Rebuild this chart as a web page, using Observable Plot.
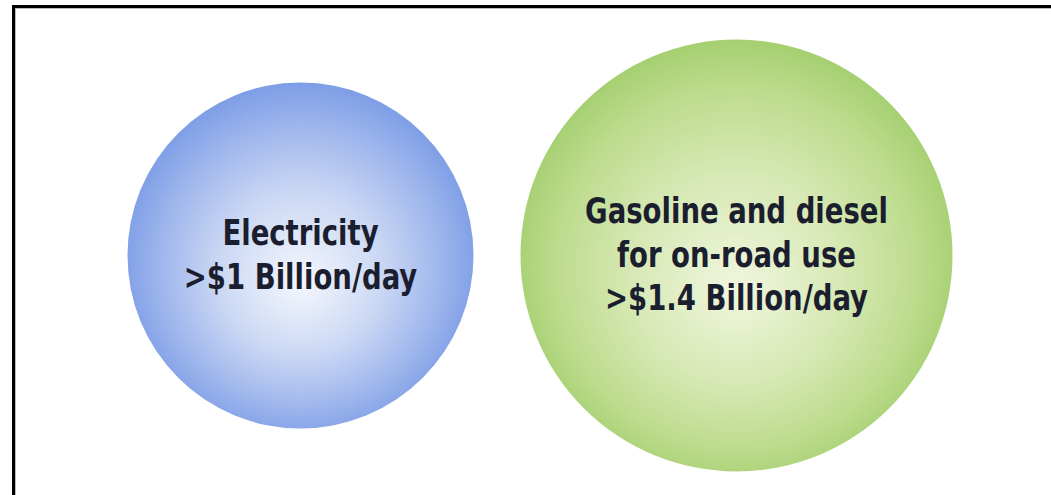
<!DOCTYPE html>
<html>
<head>
<meta charset="utf-8">
<script src="https://cdn.jsdelivr.net/npm/d3@7"></script>
<script src="https://cdn.jsdelivr.net/npm/@observablehq/plot@0.6"></script>
<style>
  html, body { margin: 0; padding: 0; background: #fff; }
  #frame {
    position: absolute; left: 12px; top: 5px;
    width: 1039px; height: 490px;
    border-top: 3px solid #000; border-left: 3px solid #000;
    box-shadow: inset 1px 1px 0 #bbb;
    overflow: hidden; background: #fff;
  }
  #frame svg text { font-stretch: condensed; }
</style>
</head>
<body>
<div id="frame"></div>
<script>
// Data
const categories = ["Electricity", "Gasoline and diesel for on-road use"];
const valuesBillionPerDay = [1, 1.4];
const labels = [
  "Electricity\n>$1 Billion/day",
  "Gasoline and diesel\nfor on-road use\n>$1.4 Billion/day"
];
const gradientIds = ["gradBlue", "gradGreen"];

const data = categories.map((c, i) => ({
  category: c,
  value: valuesBillionPerDay[i],
  label: labels[i],
  fill: `url(#${gradientIds[i]})`
}));

const plot = Plot.plot({
  width: 1036,
  height: 487,
  marginTop: 7,
  marginBottom: 0,
  marginLeft: 0,
  marginRight: 0,
  x: {type: "point", domain: categories, range: [285, 721], padding: 0, axis: null},
  r: {type: "linear", domain: [1, 1.4], range: [173, 216]},
  color: {type: "identity"},
  style: {background: "transparent", overflow: "visible"},
  marks: [
    Plot.dot(data, {x: "category", r: "value", fill: "fill", stroke: "none"}),
    Plot.text(data, {
      x: "category",
      text: "label",
      fontSize: 36,
      fontWeight: "bold",
      fontFamily: "'DejaVu Sans Condensed', 'DejaVu Sans', sans-serif",
      lineHeight: 1.22,
      lineAnchor: "middle",
      fill: "#1b1e2e",
      dy: -3,
      className: "bubble-label"
    })
  ]
});

// narrow the label glyphs horizontally (condensed bold look)
plot.querySelectorAll("g.bubble-label text, .bubble-label text").forEach((t) => {
  const tr = t.getAttribute("transform") || "";
  t.setAttribute("transform", tr + " scale(0.85,1)");
});

// radial gradient definitions
const ns = "http://www.w3.org/2000/svg";
const defs = document.createElementNS(ns, "defs");
const gradStops = {
  gradBlue: [["0%", "#f5f7fd"], ["45%", "#cbd8f4"], ["80%", "#9cb4ec"], ["100%", "#7d9de6"]],
  gradGreen: [["0%", "#f0f6df"], ["45%", "#d8e9b6"], ["80%", "#bddc8e"], ["100%", "#a5cf70"]]
};
for (const id of gradientIds) {
  const g = document.createElementNS(ns, "radialGradient");
  g.setAttribute("id", id);
  g.setAttribute("cx", "50%"); g.setAttribute("cy", "52%"); g.setAttribute("r", "52%");
  g.setAttribute("fx", "50%"); g.setAttribute("fy", "58%");
  for (const [o, c] of gradStops[id]) {
    const s = document.createElementNS(ns, "stop");
    s.setAttribute("offset", o); s.setAttribute("stop-color", c);
    g.appendChild(s);
  }
  defs.appendChild(g);
}
plot.insertBefore(defs, plot.firstChild);
document.getElementById("frame").appendChild(plot);
</script>
</body>
</html>
